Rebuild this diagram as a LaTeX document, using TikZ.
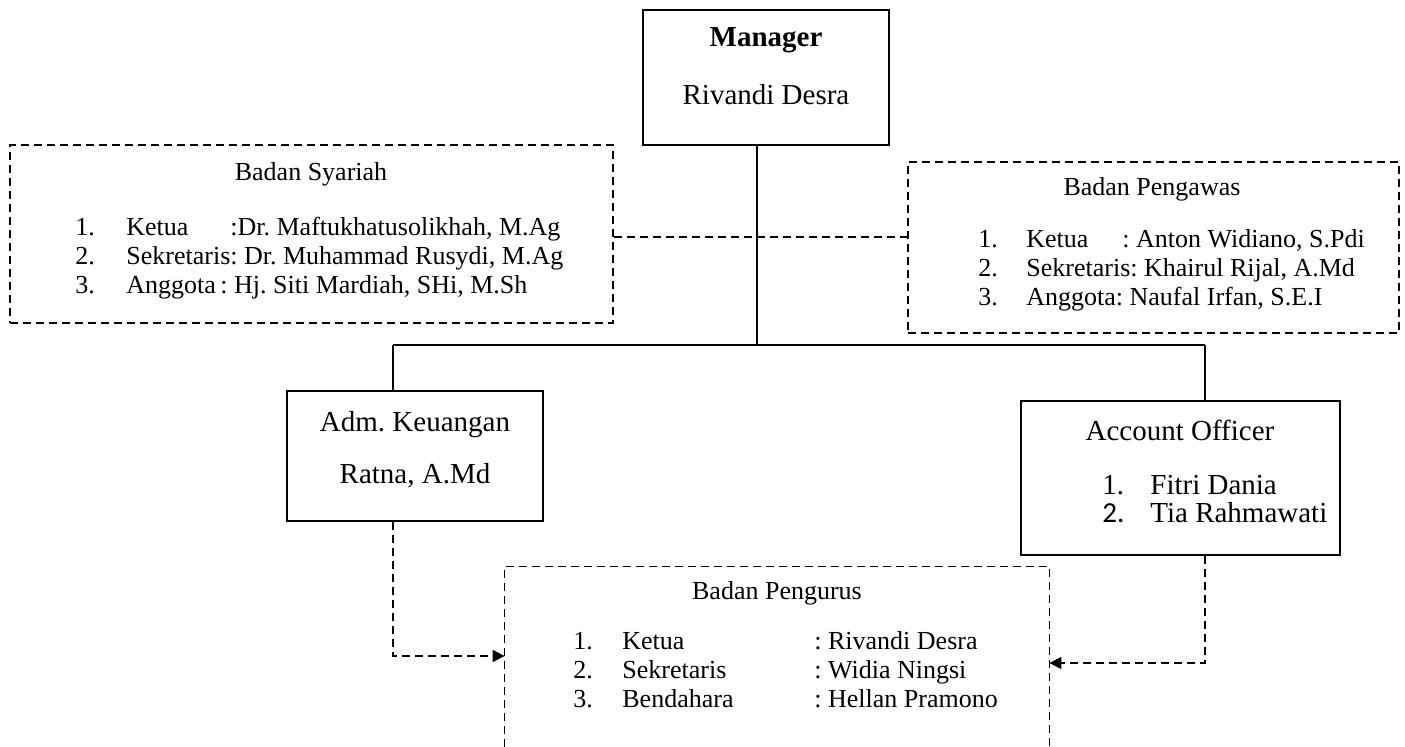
\documentclass[tikz,border=0pt]{standalone}
\usepackage{fontspec}
\setmainfont{Liberation Serif}
\newfontfamily\calib{Carlito}
\usetikzlibrary{arrows.meta}
\frenchspacing
\begin{document}
\begin{tikzpicture}[x=0.5pt,y=-0.5pt,
  solidbox/.style={draw,line width=0.8pt,inner sep=0pt},
  dsh/.style={line width=0.8pt,dash pattern=on 4pt off 2.5pt},
  dashbox/.style={draw,dsh,inner sep=0pt},
  ln/.style={line width=0.8pt},
  big/.style={font=\fontsize{14.5}{17}\selectfont,inner sep=0pt},
  small/.style={font=\fontsize{13}{15}\selectfont,inner sep=0pt},
  bw/.style={anchor=base west},
  bc/.style={anchor=base},
  tip/.style={-{Triangle[length=6pt,width=6pt]}}
]
\useasboundingbox (0,0) rectangle (1405,747);

% Manager
\node[solidbox,minimum width=123pt,minimum height=67.5pt] (mgr) at (766,77.5) {};
\node[big,bc] (mgrT) at (766,47) {\textbf{Manager}};
\node[big,bc] (mgrN) at (766,105) {Rivandi Desra};

% Badan Syariah
\node[dashbox,minimum width=301.5pt,minimum height=89pt] (syr) at (311.5,234) {};
\node[small,bc] (syrT) at (311,181) {Badan Syariah};
\node[small,bw] (s1n) at (75,236) {1.};
\node[small,bw] (s1a) at (126,236) {Ketua};
\node[small,bw] (s1b) at (230,236) {:Dr. Maftukhatusolikhah, M.Ag};
\node[small,bw] (s2n) at (75,265) {2.};
\node[small,bw] (s2a) at (126,265) {Sekretaris: Dr. Muhammad Rusydi, M.Ag};
\node[small,bw] (s3n) at (75,294) {3.};
\node[small,bw] (s3a) at (126,294) {Anggota};
\node[small,bw] (s3b) at (220,294) {: Hj. Siti Mardiah, SHi, M.Sh};

% Badan Pengawas
\node[dashbox,minimum width=245.5pt,minimum height=85.5pt] (pgw) at (1153.5,247.5) {};
\node[small,bc] (pgwT) at (1152,196) {Badan Pengawas};
\node[small,bw] (p1n) at (978,248) {1.};
\node[small,bw] (p1a) at (1026,248) {Ketua};
\node[small,bw] (p1b) at (1122,248) {: Anton Widiano, S.Pdi};
\node[small,bw] (p2n) at (978,277) {2.};
\node[small,bw] (p2a) at (1026,277) {Sekretaris: Khairul Rijal, A.Md};
\node[small,bw] (p3n) at (978,306) {3.};
\node[small,bw] (p3a) at (1026,306) {Anggota: Naufal Irfan, S.E.I};

% Adm. Keuangan
\node[solidbox,minimum width=128pt,minimum height=65pt] (adm) at (415,456) {};
\node[big,bc] (admT) at (415,432) {Adm. Keuangan};
\node[big,bc] (admN) at (415,484) {Ratna, A.Md};

% Account Officer
\node[solidbox,minimum width=159.5pt,minimum height=77pt] (ao) at (1180.5,478) {};
\node[big,bc] (aoT) at (1180,441) {Account Officer};
\node[big,bw] (ao1n) at (1102,495) {1.};
\node[big,bw] (ao1) at (1150,495) {Fitri Dania};
\node[big,bw] (ao2n) at (1102,523) {\calib 2.};
\node[big,bw] (ao2) at (1150,523) {Tia Rahmawati};

% Badan Pengurus (open at the bottom)
\node[inner sep=0pt,minimum width=272pt,minimum height=90pt] (pgr) at (777,657) {};
\draw[dsh] (pgr.south west) -- (pgr.north west) -- (pgr.north east) -- (pgr.south east);
\node[small,bc] (pgrT) at (777,600) {Badan Pengurus};
\node[small,bw] (r1n) at (573,650) {1.};
\node[small,bw] (r1a) at (622,650) {Ketua};
\node[small,bw] (r1b) at (814,650) {: Rivandi Desra};
\node[small,bw] (r2n) at (573,679) {2.};
\node[small,bw] (r2a) at (622,679) {Sekretaris};
\node[small,bw] (r2b) at (814,679) {: Widia Ningsi};
\node[small,bw] (r3n) at (573,708) {3.};
\node[small,bw] (r3a) at (622,708) {Bendahara};
\node[small,bw] (r3b) at (814,708) {: Hellan Pramono};

% connectors
\coordinate (jl) at (393,345);
\coordinate (jm) at (757,345);
\coordinate (jr) at (1205,345);
\draw[ln] (jm |- mgr.south) -- (jm);
\draw[ln] (jl) -- (jr);
\draw[ln] (jl) -- (jl |- adm.north);
\draw[ln] (jr) -- (jr |- ao.north);
\draw[dsh] (syr.east |- 0,237) -- (pgw.west |- 0,237);
\draw[dsh,tip] (adm.south -| jl) |- (pgr.west |- 0,656);
\draw[dsh,tip] (ao.south -| jr) |- (pgr.east |- 0,663);
\end{tikzpicture}
\end{document}
